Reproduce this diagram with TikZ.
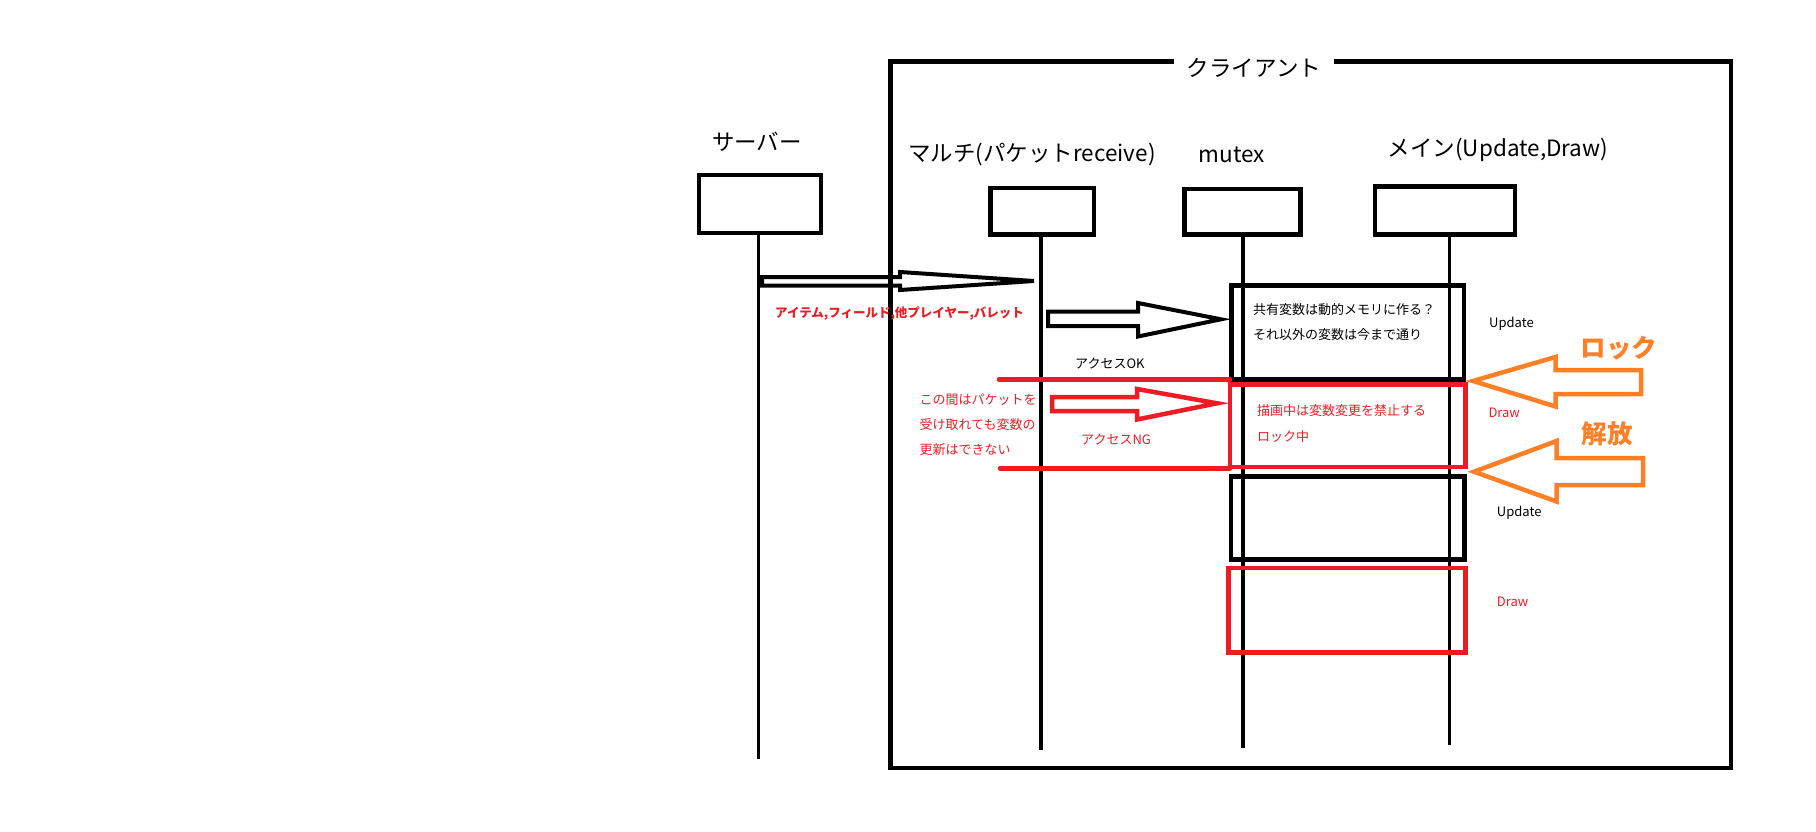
\documentclass[tikz,border=0pt]{standalone}
\usepackage{fontspec}
\setmainfont{Noto Sans CJK JP}
\definecolor{pred}{HTML}{ED1C24}
\definecolor{porange}{HTML}{FF7F27}
\begin{document}
\begin{tikzpicture}[x=1pt,y=-1pt,
  lbox/.style={draw=black,line width=4.5pt,inner sep=0pt},
  lifeline/.style={draw=black,line width=3.5pt},
  head/.style={inner sep=0pt,font=\fontsize{22.5}{26}\selectfont},
  small/.style={inner sep=0pt,anchor=west,font=\fontsize{13}{15}\selectfont},
  redsmall/.style={small,text=pred},
  big/.style={inner sep=0pt,anchor=west,text=porange,font=\fontsize{25.5}{30}\selectfont\bfseries},
  blockarrow/.style={line width=4pt,line join=miter},
  actbox/.style={line width=4.5pt}]
\useasboundingbox (0,0) rectangle (1816,832);
% client frame
\coordinate (fa) at (1173.7,61.7);
\coordinate (fb) at (1334,61.7);
\draw[line width=4.5pt] (fa) -- (890.5,61.7) -- (890.5,768) -- (1731,768) -- (1731,61.7) -- (fb);
\node[head] (client) at (1254,68) {クライアント};
% lifeline boxes
\node[lbox,minimum width=122pt,minimum height=57.5pt] (srv) at (760,204) {};
\node[lbox,minimum width=103.5pt,minimum height=46.5pt] (multi) at (1042,211.2) {};
\node[lbox,minimum width=116pt,minimum height=45.5pt] (mtx) at (1242.7,211.7) {};
\node[lbox,minimum width=140pt,minimum height=48pt] (main) at (1445.2,210.3) {};
% headers
\node[head] (hsrv) at (757,141.7) {サーバー};
\node[head] (hmulti) at (1032,155) {マルチ(パケットreceive)};
\node[head] (hmtx) at (1232,155) {mutex};
\node[head] (hmain) at (1498,150) {メイン(Update,Draw)};
% lifelines
\coordinate (srvend) at (758.5,758.5);
\coordinate (multiend) at (1041,750);
\coordinate (mtxend) at (1243,748);
\coordinate (mainend) at (1449.5,744.6);
\draw[lifeline] (srv.south -| srvend) -- (srvend);
\draw[lifeline] (multi.south -| multiend) -- (multiend);
\draw[lifeline] (mtx.south -| mtxend) -- (mtxend);
\draw[lifeline] (main.south -| mainend) -- (mainend);
% activation boxes
\draw[actbox,draw=black] (1231.5,285.5) rectangle (1464,379.5);
\draw[actbox,draw=black] (1231,476.5) rectangle (1464.5,559.5);
\draw[actbox,draw=pred] (1230,384.5) rectangle (1465.5,467);
\draw[actbox,draw=pred] (1228.5,568) rectangle (1465.5,652.5);
% red bracket lines
\coordinate (rl1) at (999,379.5);
\coordinate (rl2) at (1000,468.3);
\draw[pred,line width=4.5pt,line cap=round] (rl1) -- (1230,379.5);
\draw[pred,line width=4.5pt,line cap=round] (rl2) -- (1230,468.3);
% block arrows
\draw[blockarrow,black] (762,277) -- (900,277) -- (900,272) -- (1034,281) -- (900,290) -- (900,285.5) -- (762,285.5) -- cycle;
\draw[blockarrow,black] (1048,311.5) -- (1138,311.5) -- (1138,303) -- (1221,319.3) -- (1138,336.5) -- (1138,326) -- (1048,326) -- cycle;
\draw[blockarrow,pred,line width=4.5pt] (1052,397) -- (1137,397) -- (1137,389) -- (1217,403.3) -- (1137,419.5) -- (1137,411) -- (1052,411) -- cycle;
\draw[blockarrow,porange,line width=4.5pt] (1473,381) -- (1555.5,357) -- (1555.5,370) -- (1641,370) -- (1641,394) -- (1555.5,394) -- (1555.5,406.5) -- cycle;
\draw[blockarrow,porange,line width=4.5pt] (1474,471.7) -- (1556.5,441) -- (1556.5,458) -- (1643,458) -- (1643,485) -- (1556.5,485) -- (1556.5,501.5) -- cycle;
% texts
\node[redsmall,font=\fontsize{12.5}{15}\selectfont\bfseries] (items) at (775,314) {アイテム,フィールド,他プレイヤー,バレット};
\node[small] (t1) at (1253,310) {共有変数は動的メモリに作る？};
\node[small] (t2) at (1253,334.3) {それ以外の変数は今まで通り};
\node[small] (up1) at (1489,324.3) {Update};
\node[small] (aok) at (1075,363.3) {アクセスOK};
\node[redsmall] (l1) at (919.4,400) {この間はパケットを};
\node[redsmall] (l2) at (919.4,425) {受け取れても変数の};
\node[redsmall] (l3) at (919.4,449.3) {更新はできない};
\node[redsmall] (ang) at (1081,440) {アクセスNG};
\node[redsmall] (r1) at (1257,410.7) {描画中は変数変更を禁止する};
\node[redsmall] (r2) at (1257,436.7) {ロック中};
\node[redsmall] (dr1) at (1488.3,412.7) {Draw};
\node[small] (up2) at (1496.7,513.3) {Update};
\node[redsmall] (dr2) at (1496.7,601.7) {Draw};
\node[big] (lock) at (1580.7,348.3) {ロック};
\node[big] (rel) at (1581.7,434) {解放};
\end{tikzpicture}
\end{document}
